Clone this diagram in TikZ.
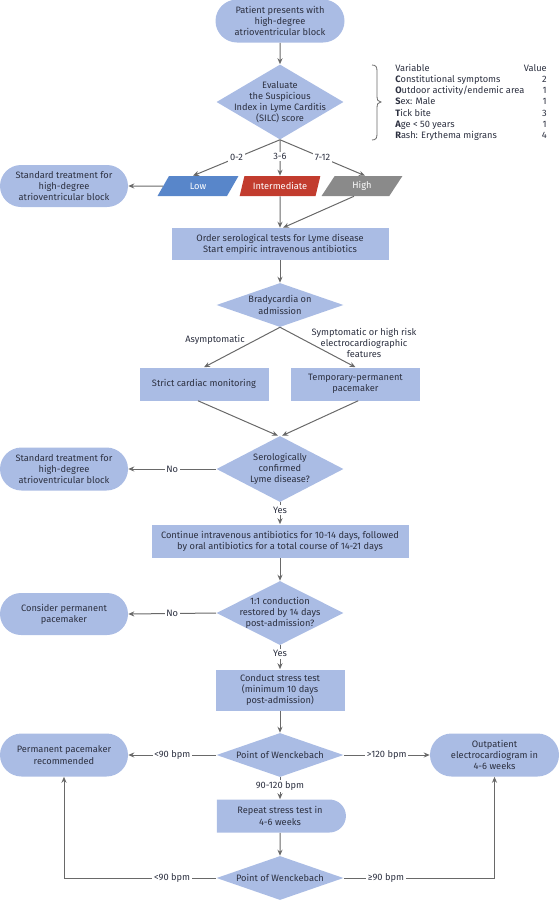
\documentclass[tikz,border=0pt]{standalone}
\usepackage{fontspec}
\setmainfont{Fira Sans}
\usetikzlibrary{shapes.geometric,shapes.misc,arrows.meta}
\definecolor{nfill}{RGB}{170,188,228}
\definecolor{lowc}{RGB}{88,134,202}
\definecolor{midc}{RGB}{194,60,46}
\definecolor{highc}{RGB}{138,138,138}
\definecolor{tcol}{RGB}{44,48,64}
\definecolor{lcol}{RGB}{105,105,105}
\newcommand\fsz{\fontsize{6.95}{8.4}\selectfont}
\begin{document}
\begin{tikzpicture}[x=0.75pt,y=-0.75pt,
  every node/.style={font=\fsz, text=tcol},
  sz/.style 2 args={minimum width=#1*0.75pt, minimum height=#2*0.75pt},
  base/.style={fill=nfill, inner sep=0pt, align=center},
  sbox/.style={base, rectangle},
  stad/.style={base, rounded rectangle},
  dia/.style={fill=nfill, diamond, inner sep=0pt},
  dtxt/.style={align=center, inner sep=0pt},
  para/.style={trapezium, trapezium left angle=63.4, trapezium right angle=116.6,
     trapezium stretches=true, inner sep=0pt, text=white, sz={81}{20}},
  arr/.style={draw=lcol, line width=0.75pt, -{Stealth[length=4.5pt,width=3.8pt]}},
  lbl/.style={fill=white, inner sep=1.2pt},
  plain/.style={align=center, inner sep=0pt},
  tab/.style={inner sep=0pt, text height=5pt, text depth=1.5pt},
  brc/.style={draw=lcol, line width=0.6pt}
]
\useasboundingbox (0,0) rectangle (559,900);

% nodes
\node[stad, sz={129}{43}] (top) at (280,21) {Patient presents with\\high-degree\\atrioventricular block};
\node[dia, sz={127}{75}] (d1) at (280,102) {};
\node[dtxt] (d1t) at (d1.center) {Evaluate\\the Suspicious\\Index in Lyme Carditis\\(SILC) score};

\node[para, fill=lowc] (low) at (198,186) {Low};
\node[para, fill=midc] (inter) at (280,186) {Intermediate};
\node[para, fill=highc] (high) at (362,186) {High};
\node[stad, sz={128}{42}] (std1) at (64,186) {Standard treatment for\\high-degree\\atrioventricular block};

\node[sbox, sz={217}{32}] (order) at (280,244) {Order serological tests for Lyme disease\\Start empiric intravenous antibiotics};
\node[dia, sz={127}{44}] (d2) at (280,305) {};
\node[dtxt] (d2t) at (d2.center) {Bradycardia on\\admission};

\node[plain] (asym) at (215,340) {Asymptomatic};
\node[plain] (sym) at (364,343) {Symptomatic or high risk\\electrocardiographic\\features};

\node[sbox, sz={129}{33}] (strict) at (204,384) {Strict cardiac monitoring};
\node[sbox, sz={129}{33}] (temp) at (355.5,384) {Temporary-permanent\\pacemaker};

\node[dia, sz={127}{66}] (d3) at (280,469) {};
\node[dtxt] (d3t) at (d3.center) {Serologically\\confirmed\\Lyme disease?};
\node[stad, sz={128}{43}] (std2) at (64,469) {Standard treatment for\\high-degree\\atrioventricular block};

\node[sbox, sz={257}{33}] (cont) at (280,541) {Continue intravenous antibiotics for 10-14 days, followed\\by oral antibiotics for a total course of 14-21 days};

\node[dia, sz={127}{64}] (d4) at (280,613) {};
\node[dtxt] (d4t) at (d4.center) {1:1 conduction\\restored by 14 days\\post-admission?};
\node[stad, sz={128}{42}] (consider) at (64,614) {Consider permanent\\pacemaker};

\node[sbox, sz={129}{41}] (conduct) at (280,690) {Conduct stress test\\(minimum 10 days\\post-admission)};

\node[dia, sz={127}{44}] (d5) at (280,755) {};
\node[dtxt] (d5t) at (d5.center) {Point of Wenckebach};
\node[stad, sz={128}{43}] (perm) at (64,755) {Permanent pacemaker\\recommended};
\node[stad, sz={129}{43}] (out) at (494.5,755) {Outpatient\\electrocardiogram in\\4-6 weeks};

\node[stad, rounded rectangle left arc=none, sz={129}{33}] (rep) at (280,816) {Repeat stress test in\\4-6 weeks};

\node[dia, sz={127}{44}] (d6) at (280,878) {};
\node[dtxt] (d6t) at (d6.center) {Point of Wenckebach};

% table
\node[tab, anchor=west] (tv0) at (395,69) {Variable};
\node[tab, anchor=east] (tn0) at (547,69) {Value};
\node[tab, anchor=west] (tv1) at (395,80) {\textbf{C}onstitutional symptoms};
\node[tab, anchor=east] (tn1) at (547,80) {2};
\node[tab, anchor=west] (tv2) at (395,91.3) {\textbf{O}utdoor activity/endemic area};
\node[tab, anchor=east] (tn2) at (547,91.3) {1};
\node[tab, anchor=west] (tv3) at (395,102.5) {\textbf{S}ex: Male};
\node[tab, anchor=east] (tn3) at (547,102.5) {1};
\node[tab, anchor=west] (tv4) at (395,113.7) {\textbf{T}ick bite};
\node[tab, anchor=east] (tn4) at (547,113.7) {3};
\node[tab, anchor=west] (tv5) at (395,124.8) {\textbf{A}ge < 50 years};
\node[tab, anchor=east] (tn5) at (547,124.8) {1};
\node[tab, anchor=west] (tv6) at (395,136) {\textbf{R}ash: Erythema migrans};
\node[tab, anchor=east] (tn6) at (547,136) {4};

% brace
\draw[brc] (372,65) .. controls (376,65) and (377,67) .. (377,71) -- (377,96)
  .. controls (377,100) and (378,102) .. (381,102)
  .. controls (378,102) and (377,104) .. (377,108) -- (377,134)
  .. controls (377,138) and (376,140) .. (372,140);

% connectors
\draw[arr] (top) -- (d1);
\draw[arr] (d1.south) -- node[lbl,pos=0.5]{0-2} ([xshift=-3.75pt]low.north);
\draw[arr] (d1.south) -- node[lbl,pos=0.47]{3-6} (inter);
\draw[arr] (d1.south) -- node[lbl,pos=0.5]{7-12} ([xshift=2.25pt]high.north);
\draw[arr] (low) -- (std1);
\draw[arr] (inter) -- (order);
\draw[arr] ([xshift=-6pt]high.south) -- ([xshift=2.25pt]order.north);
\draw[arr] (order) -- (d2);
\draw[arr] (d2.south) -- (strict.north);
\draw[arr] (d2.south) -- (temp.north);
\draw[arr] ([xshift=-4.5pt]strict.south) -- ([xshift=-1.5pt]d3.north);
\draw[arr] ([xshift=2pt]temp.south) -- ([xshift=1.5pt]d3.north);
\draw[arr] (d3.west) -- node[lbl]{No} (std2.east);
\draw[arr] (d3.south) -- node[lbl,pos=0.35]{Yes} (cont.north);
\draw[arr] (cont) -- (d4);
\draw[arr] (d4.west) -- node[lbl]{No} (consider.east);
\draw[arr] (d4.south) -- node[lbl,pos=0.35]{Yes} (conduct.north);
\draw[arr] (conduct) -- (d5);
\draw[arr] (d5.west) -- node[lbl]{<90 bpm} (perm.east);
\draw[arr] (d5.east) -- node[lbl]{>120 bpm} (out.west);
\draw[arr] (d5.south) -- node[lbl,pos=0.4]{90-120 bpm} (rep.north);
\draw[arr] (rep) -- (d6);
\coordinate (c1) at (perm.south |- d6.west);
\draw[arr] (d6.west) -- node[lbl,pos=0.29]{<90 bpm} (c1) -- (perm.south);
\coordinate (c2) at (out.south |- d6.east);
\draw[arr] (d6.east) -- node[lbl,pos=0.28]{≥90 bpm} (c2) -- (out.south);
\end{tikzpicture}
\end{document}
